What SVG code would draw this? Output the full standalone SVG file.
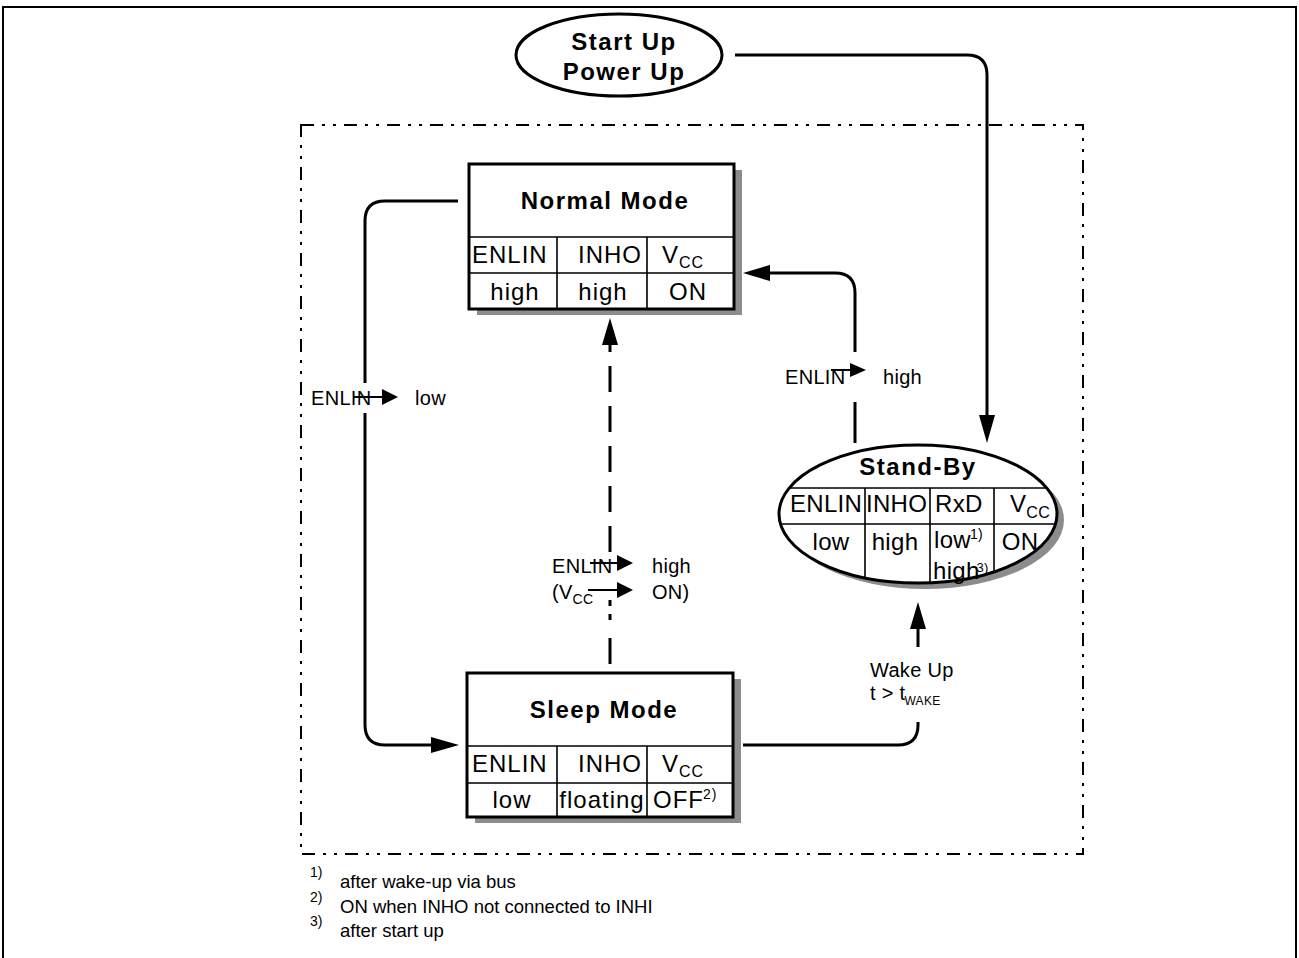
<svg xmlns="http://www.w3.org/2000/svg" width="1299" height="958" viewBox="0 0 1299 958">
<style>
text{font-family:"Liberation Sans",Arial,sans-serif;fill:#000}
.t{font-size:24px;font-weight:bold;letter-spacing:1.5px}
.c{font-size:24px;letter-spacing:1px}
.cs{font-size:24px;letter-spacing:0.3px}
.lbl{font-size:20px;letter-spacing:0.3px}
.fn{font-size:18.5px}
.box{fill:#fff;stroke:#000;stroke-width:3}
.sh{fill:#8c8c8c}
.grid{stroke:#000;stroke-width:1.6;fill:none}
.con{stroke:#000;stroke-width:3;fill:none}
.frame{stroke:#000;stroke-width:2;fill:none}
</style>
<defs>
<clipPath id="sbclip"><ellipse cx="918" cy="514" rx="139" ry="69"/></clipPath>
</defs>
<rect x="3" y="7" width="1293" height="970" class="frame"/>
<rect x="301" y="125" width="782" height="729" fill="none" stroke="#000" stroke-width="2" stroke-dasharray="13 8 3 8 3 8"/>

<g id="connectors">
<path class="con" d="M735,55 H967 Q987,55 987,75 V418"/>
<path d="M979,415 L995,415 L987,443 Z"/>
<path class="con" d="M855,443 V402 M855,352 V293 Q855,273 835,273 H768"/>
<path d="M770,265 L770,281 L743,273 Z"/>
<path class="con" d="M458,201 H385 Q365,201 365,221 V383 M365,413 V725 Q365,745 385,745 H433"/>
<path d="M431,737 L431,753 L459,745 Z"/>
<path class="con" d="M610,664 V638 M610,620 V614 M610,606 V600 M610,552 V345" stroke-dasharray="26 14"/>
<path d="M602,345 L618,345 L610,318 Z"/>
<path class="con" d="M743,745 H898 Q918,745 918,725 V722 M918,647 V626"/>
<path d="M910,629 L926,629 L918,602 Z"/>
</g>

<g id="labels">
<text class="lbl" x="311" y="405">ENLIN</text>
<path d="M354,397 H384" stroke="#000" stroke-width="2"/>
<path d="M382,389 L398,397 L382,405 Z"/>
<text class="lbl" x="415" y="405">low</text>

<text class="lbl" x="785" y="384">ENLIN</text>
<path d="M831,370 H852" stroke="#000" stroke-width="2"/>
<path d="M850,363 L866,370 L850,377 Z"/>
<text class="lbl" x="883" y="384">high</text>

<text class="lbl" x="552" y="573">ENLIN</text>
<path d="M590,563 H620" stroke="#000" stroke-width="2"/>
<path d="M617,555 L633,563 L617,571 Z"/>
<text class="lbl" x="652" y="573">high</text>
<text class="lbl" x="552" y="599">(V<tspan font-size="14" dy="5">CC</tspan></text>
<path d="M588,590 H620" stroke="#000" stroke-width="2"/>
<path d="M617,582 L633,590 L617,598 Z"/>
<text class="lbl" x="652" y="599">ON)</text>

<text class="lbl" x="870" y="677">Wake Up</text>
<text class="lbl" x="870" y="700">t &gt; t<tspan font-size="12" dy="5" dx="-1">WAKE</tspan></text>
</g>

<g id="startup">
<ellipse cx="619" cy="55" rx="103" ry="41" fill="#fff" stroke="#000" stroke-width="3"/>
<text class="t" x="624" y="50" text-anchor="middle">Start Up</text>
<text class="t" x="624" y="80" text-anchor="middle">Power Up</text>
</g>

<g id="normal">
<rect class="sh" x="477" y="170" width="265" height="145"/>
<rect class="box" x="469" y="164" width="265" height="145"/>
<path class="grid" d="M469,237 H734 M469,273 H734 M557,237 V309 M647,237 V309"/>
<text class="t" x="605" y="209" text-anchor="middle">Normal Mode</text>
<text class="c" x="472" y="263">ENLIN</text>
<text class="c" x="578" y="263">INHO</text>
<text class="c" x="662" y="263">V<tspan font-size="16" dy="5">CC</tspan></text>
<text class="c" x="515" y="300" text-anchor="middle">high</text>
<text class="c" x="603" y="300" text-anchor="middle">high</text>
<text class="c" x="688" y="300" text-anchor="middle">ON</text>
</g>

<g id="sleep">
<rect class="sh" x="475" y="679" width="266" height="144"/>
<rect class="box" x="467" y="673" width="266" height="144"/>
<path class="grid" d="M467,746 H733 M467,783 H733 M557,746 V817 M647,746 V817"/>
<text class="t" x="604" y="718" text-anchor="middle">Sleep Mode</text>
<text class="c" x="472" y="772">ENLIN</text>
<text class="c" x="578" y="772">INHO</text>
<text class="c" x="662" y="772">V<tspan font-size="16" dy="5">CC</tspan></text>
<text class="c" x="512" y="808" text-anchor="middle">low</text>
<text class="c" x="602" y="808" text-anchor="middle">floating</text>
<text class="c" x="653" y="808">OFF<tspan font-size="14" dy="-9" dx="-1">2)</tspan></text>
</g>

<g id="standby">
<ellipse class="sh" cx="925" cy="520" rx="139" ry="69"/>
<ellipse cx="918" cy="514" rx="139" ry="69" fill="#fff"/>
<g clip-path="url(#sbclip)">
<path class="grid" d="M770,488 H1060 M770,524 H1060 M865,488 V590 M930,488 V590 M994,488 V590"/>
</g>
<ellipse cx="918" cy="514" rx="139" ry="69" fill="none" stroke="#000" stroke-width="3"/>
<text class="t" x="918" y="475" text-anchor="middle">Stand-By</text>
<text class="cs" x="790" y="512">ENLIN</text>
<text class="cs" x="866" y="512">INHO</text>
<text class="cs" x="935" y="512">RxD</text>
<text class="cs" x="1010" y="512">V<tspan font-size="16" dy="6">CC</tspan></text>
<text class="cs" x="831" y="550" text-anchor="middle">low</text>
<text class="cs" x="895" y="550" text-anchor="middle">high</text>
<text class="cs" x="934" y="548">low<tspan font-size="14" dy="-9" dx="-1">1)</tspan></text>
<text class="cs" x="933" y="579" letter-spacing="-0.3">high<tspan font-size="13" dy="-7" dx="-3">3)</tspan></text>
<text class="cs" x="1020" y="550" text-anchor="middle">ON</text>
</g>

<g id="footnotes">
<text class="fn" x="310" y="888"><tspan font-size="14" dy="-11">1)</tspan><tspan x="340" dy="11">after wake-up  via bus</tspan></text>
<text class="fn" x="310" y="913"><tspan font-size="14" dy="-11">2)</tspan><tspan x="340" dy="11">ON when INHO not connected to INHI</tspan></text>
<text class="fn" x="310" y="937"><tspan font-size="14" dy="-11">3)</tspan><tspan x="340" dy="11">after start up</tspan></text>
</g>
</svg>
